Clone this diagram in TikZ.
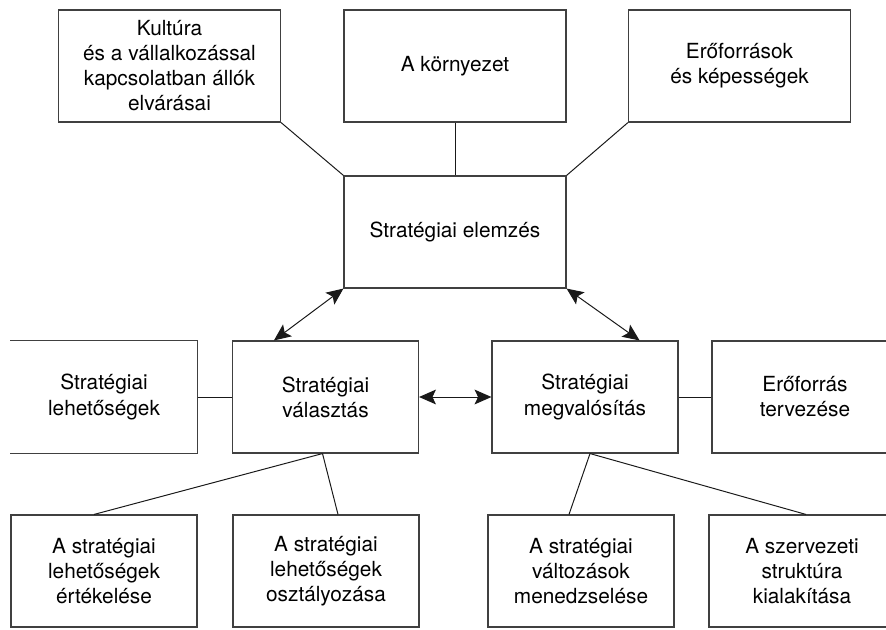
\documentclass[tikz,border=0pt]{standalone}
\usepackage{fontspec}
\setmainfont{TeX Gyre Heros}
\usepackage{tikz}
\usetikzlibrary{arrows.meta, calc}

\begin{document}
\begin{tikzpicture}[
  x=0.025cm, y=-0.025cm,
  every node/.style = {font=\fontsize{14.8}{17.8}\selectfont, align=center},
  box/.style        = {draw=black!75, line width=0.8pt, minimum height=112*0.025cm, inner sep=0pt},
  wide/.style       = {box, minimum width=222*0.025cm},
  narrow/.style     = {box, minimum width=186*0.025cm},
  link/.style       = {draw=black!90, line width=0.7pt},
  dbl/.style        = {link, {Stealth[length=12pt,width=10.5pt,inset=2.5pt]}-{Stealth[length=12pt,width=10.5pt,inset=2.5pt]}},
]

%% ── Frame: 1 unit = 1 px of the 886 x 630 page ─────────────────────────────
\useasboundingbox (0,0) rectangle (886,630);
\clip (0,0) rectangle (886,630);

% ── TOP ROW: inputs of the analysis ─────────────────────────────────────────
\node[wide] (kult)    at (169.5,66) {Kultúra\\és a vállalkozással\\kapcsolatban állók\\elvárásai};
\node[wide] (korny)   at (455,66)   {A környezet};
\node[wide] (eroforr) at (739.5,66) {Erőforrások\\és képességek};

% Central box
\node[wide] (elemz) at (455,232) {Stratégiai elemzés};

\draw[link] (kult.south east) -- (elemz.north west);
\draw[link] (korny.south) -- (elemz.north);
\draw[link] (eroforr.south west) -- (elemz.north east);

% ── MIDDLE ROW: choice and implementation ───────────────────────────────────
\node[narrow, draw=none] (lehet) at (104,397) {Stratégiai\\lehetőségek};
\draw[draw=black!75, line width=0.8pt]
  (lehet.north west) -- (lehet.north east) -- (lehet.south east) -- (lehet.south west);
\node[narrow] (valaszt) at (325.5,397) {Stratégiai\\választás};
\node[narrow] (megval)  at (585,397)   {Stratégiai\\megvalósítás};
\node[narrow] (tervez)  at (805,397)   {Erőforrás\\tervezése};

\draw[link] (lehet.east) -- (valaszt.west);
\draw[link] (megval.east) -- (tervez.west);

% Two-way arrows
\draw[dbl] (elemz.south west) -- ([xshift=42*0.025cm]valaszt.north west);
\draw[dbl] (elemz.south east) -- ([xshift=-39*0.025cm]megval.north east);
\draw[dbl] (valaszt.east) -- (megval.west);

% ── BOTTOM ROW: detailed tasks ──────────────────────────────────────────────
\node[narrow] (ertek)   at (104,571) {A stratégiai\\lehetőségek\\értékelése};
\node[narrow] (osztaly) at (326,571) {A stratégiai\\lehetőségek\\osztályozása};
\node[narrow] (valtoz)  at (581,571) {A stratégiai\\változások\\menedzselése};
\node[narrow] (szerv)   at (802,571) {A szervezeti\\struktúra\\kialakítása};

\draw[link] ([xshift=-3*0.025cm]valaszt.south) -- ([xshift=-10*0.025cm]ertek.north);
\draw[link] ([xshift=-3*0.025cm]valaszt.south) -- ([xshift=12*0.025cm]osztaly.north);
\draw[link] ([xshift=5*0.025cm]megval.south) -- ([xshift=-12*0.025cm]valtoz.north);
\draw[link] ([xshift=5*0.025cm]megval.south) -- ([xshift=4*0.025cm]szerv.north);

\end{tikzpicture}
\end{document}
